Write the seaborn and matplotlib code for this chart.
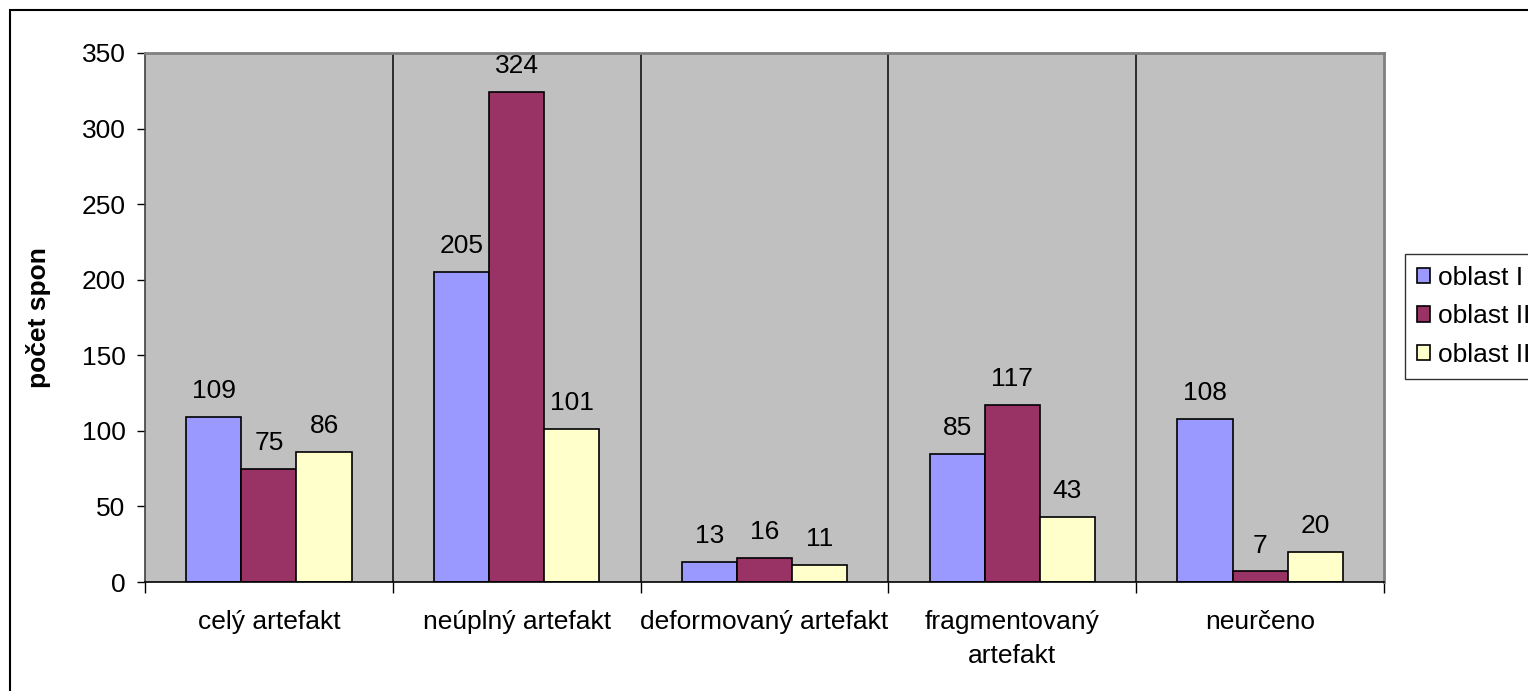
import numpy as np
import pandas as pd
import matplotlib
matplotlib.use("Agg")
import matplotlib.pyplot as plt
from matplotlib.patches import Rectangle, Patch
import seaborn as sns

CATEGORIES = ["celý artefakt", "neúplný artefakt", "deformovaný artefakt",
              "fragmentovaný\nartefakt", "neurčeno"]
SERIES = ["oblast I", "oblast II", "oblast III"]
OBLAST_I = [109, 205, 13, 85, 108]
OBLAST_II = [75, 324, 16, 117, 7]
OBLAST_III = [86, 101, 11, 43, 20]
COLORS = ["#9999FF", "#993366", "#FFFFCC"]

sns.set_theme(style="white")
plt.rcParams["font.family"] = ["Liberation Sans", "DejaVu Sans"]
plt.rcParams["text.color"] = "black"
plt.rcParams["xtick.color"] = "black"
plt.rcParams["ytick.color"] = "black"
plt.rcParams["axes.labelcolor"] = "black"
FS = 19

rows = []
for name, vals in zip(SERIES, [OBLAST_I, OBLAST_II, OBLAST_III]):
    for cat, v in zip(CATEGORIES, vals):
        rows.append({"kategorie": cat, "oblast": name, "pocet": v})
df = pd.DataFrame(rows)

W, H = 1528, 691
fig = plt.figure(figsize=(W / 100, H / 100), dpi=100)
ax = fig.add_axes([145 / W, 1 - 582 / H, (1384 - 145) / W, (582 - 53) / H])
ax.set_facecolor("#C0C0C0")

sns.barplot(data=df, x="kategorie", y="pocet", hue="oblast", order=CATEGORIES,
            hue_order=SERIES, palette=COLORS, width=0.668, gap=0,
            edgecolor="black", linewidth=1.2, saturation=1, ax=ax, legend=False)

for c in ax.containers:
    ax.bar_label(c, padding=10, fontsize=FS)

ax.set_xlim(-0.5, len(CATEGORIES) - 0.5)
ax.set_ylim(0, 350)
ax.set_yticks(np.arange(0, 351, 50))
ax.tick_params(axis="y", labelsize=FS, length=6, width=1, pad=8, direction="out", left=True)
ax.set_xticks(range(len(CATEGORIES)))
ax.set_xticklabels(CATEGORIES, fontsize=FS, linespacing=1.55)
ax.tick_params(axis="x", which="major", length=0, pad=20)
ax.set_xticks(np.arange(-0.5, len(CATEGORIES), 1), minor=True)
ax.tick_params(axis="x", which="minor", length=8, width=1, direction="out", bottom=True)

for b in np.arange(0.5, len(CATEGORIES) - 0.5, 1):
    ax.axvline(b, color="#202020", lw=1.3, zorder=0.5)

ax.set_xlabel("")
ax.set_ylabel("počet spon", fontsize=FS, fontweight="bold", labelpad=22)

for side in ["top", "right"]:
    ax.spines[side].set_color("#808080")
    ax.spines[side].set_linewidth(2)
ax.spines["left"].set_color("#404040")
ax.spines["left"].set_linewidth(1.2)
ax.spines["bottom"].set_color("black")
ax.spines["bottom"].set_linewidth(1.2)

handles = [Patch(facecolor=c, edgecolor="black", linewidth=1.2) for c in COLORS]
leg = fig.legend(handles, SERIES, loc="upper left",
                 bbox_to_anchor=(1405 / W, 1 - 254 / H), fontsize=FS,
                 frameon=True, fancybox=False, handlelength=0.5, handleheight=0.5,
                 handletextpad=0.3, labelspacing=0.55, borderpad=0.45, borderaxespad=0)
leg.get_frame().set_edgecolor("black")
leg.get_frame().set_linewidth(1)

fig.patches.append(Rectangle((10 / W, -0.1), 1.2, 1 - 10 / H + 0.1,
                             transform=fig.transFigure, fill=False,
                             edgecolor="black", linewidth=1.5))

fig.savefig("out.png", dpi=100)
